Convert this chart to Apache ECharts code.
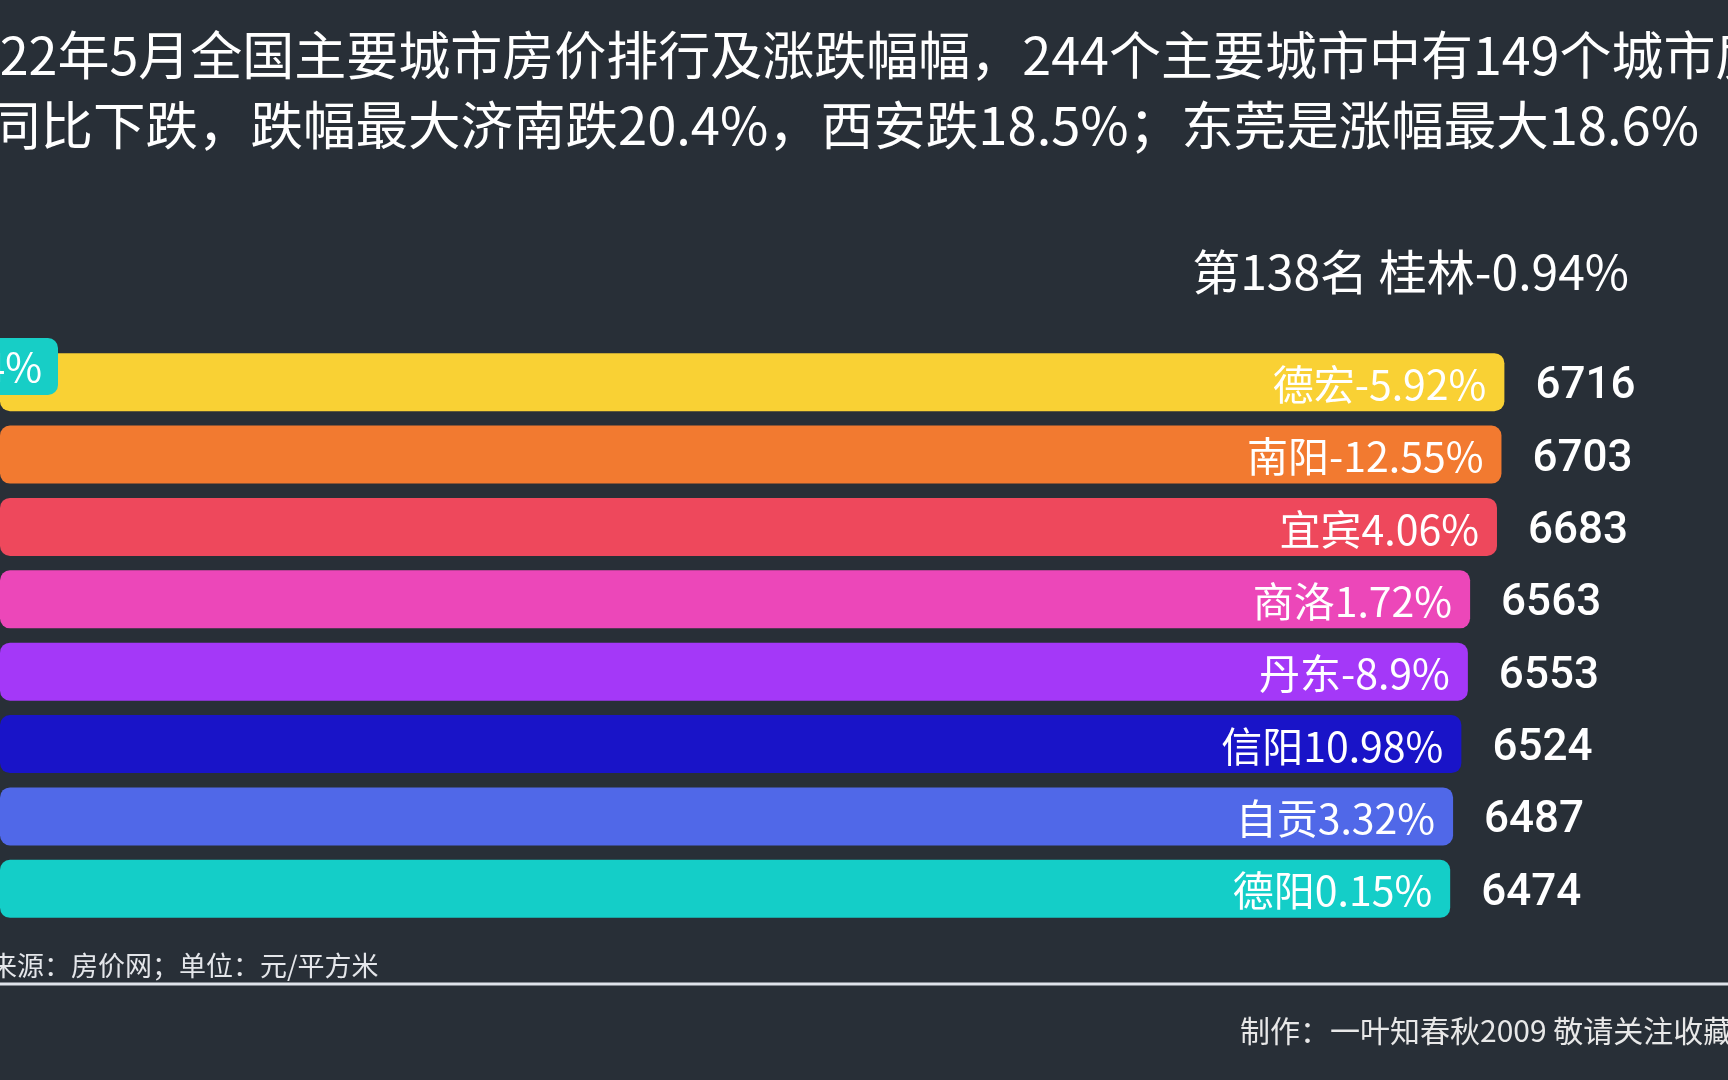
<!DOCTYPE html>
<html>
<head>
<meta charset="utf-8">
<script src="https://cdn.jsdelivr.net/npm/echarts@6/dist/echarts.min.js"></script>
<style>
  html, body { margin: 0; padding: 0; background: #282f37; }
  #chart { width: 1728px; height: 1080px; }
</style>
</head>
<body>
<div id="chart"></div>
<script>
// ---- data ----
const cities = ['德宏', '南阳', '宜宾', '商洛', '丹东', '信阳', '自贡', '德阳'];
const prices = [6716, 6703, 6683, 6563, 6553, 6524, 6487, 6474];
const changes = [-5.92, -12.55, 4.06, 1.72, -8.9, 10.98, 3.32, 0.15];
const barColors = ['#F9D134', '#F27A30', '#EE485C', '#EC47B9', '#A438F8', '#1914C8', '#5068E8', '#14CEC8'];

const titleLine1 = '2022年5月全国主要城市房价排行及涨跌幅幅，244个主要城市中有149个城市房价';
const titleLine2 = '同比下跌，跌幅最大济南跌20.4%，西安跌18.5%；东莞是涨幅最大18.6%';
const rankText = '第138名 桂林-0.94%';
const movingLabel = '桂林-0.94%';
const sourceText = '来源：房价网；单位：元/平方米';
const footerText = '制作：一叶知春秋2009 敬请关注收藏';

const CJK = '"Noto Sans CJK SC", "Noto Sans", sans-serif';

const chart = echarts.init(document.getElementById('chart'));

const barData = prices.map((v, i) => ({
  value: v,
  itemStyle: { color: barColors[i] }
}));

chart.setOption({
  backgroundColor: '#282f37',
  animation: false,
  grid: { left: -5, right: 48, top: 346, height: 579, containLabel: false },
  xAxis: { type: 'value', min: 0, max: 7500, show: false },
  yAxis: { type: 'category', data: cities, inverse: true, show: false },
  series: [
    {
      type: 'bar',
      data: barData,
      barWidth: 58,
      itemStyle: { borderRadius: 10 },
      label: {
        show: true,
        position: 'insideRight',
        distance: 18,
        offset: [0, 2],
        color: '#ffffff',
        fontFamily: CJK,
        fontSize: 41,
        formatter: p => cities[p.dataIndex] + changes[p.dataIndex] + '%'
      },
      z: 2
    },
    {
      type: 'bar',
      data: prices,
      barWidth: 58,
      barGap: '-100%',
      itemStyle: { color: 'transparent' },
      label: {
        show: true,
        position: 'right',
        distance: 31,
        offset: [0, 5],
        color: '#ffffff',
        fontFamily: 'Roboto, sans-serif',
        fontWeight: 500,
        fontSize: 44
      },
      silent: true,
      z: 3
    }
  ],
  graphic: [
    { type: 'text', x: -58, y: 55,
      style: { text: titleLine1, fill: '#ffffff', font: 'normal 52px ' + CJK, textVerticalAlign: 'middle' } },
    { type: 'text', x: -12, y: 125,
      style: { text: titleLine2, fill: '#ffffff', font: 'normal 52.5px ' + CJK, textVerticalAlign: 'middle' } },
    { type: 'text', x: 1629, y: 272,
      style: { text: rankText, fill: '#ffffff', font: 'normal 48px ' + CJK, textAlign: 'right', textVerticalAlign: 'middle' } },
    { type: 'rect', shape: { x: -160, y: 338, width: 218, height: 57, r: 10 }, style: { fill: '#17CEC6' }, z: 10 },
    { type: 'text', x: 42, y: 367, z: 11,
      style: { text: movingLabel, fill: '#ffffff', font: 'normal 40px ' + CJK, textAlign: 'right', textVerticalAlign: 'middle' } },
    { type: 'text', x: -10, y: 966,
      style: { text: sourceText, fill: '#e4e6ea', font: 'normal 27px ' + CJK, textVerticalAlign: 'middle' } },
    { type: 'rect', shape: { x: 0, y: 982.5, width: 1728, height: 3 }, style: { fill: '#dfe3ea' } },
    { type: 'text', x: 1240, y: 1031,
      style: { text: footerText, fill: '#e8e8e8', font: 'normal 30px ' + CJK, textVerticalAlign: 'middle' } }
  ]
});
</script>
</body>
</html>
